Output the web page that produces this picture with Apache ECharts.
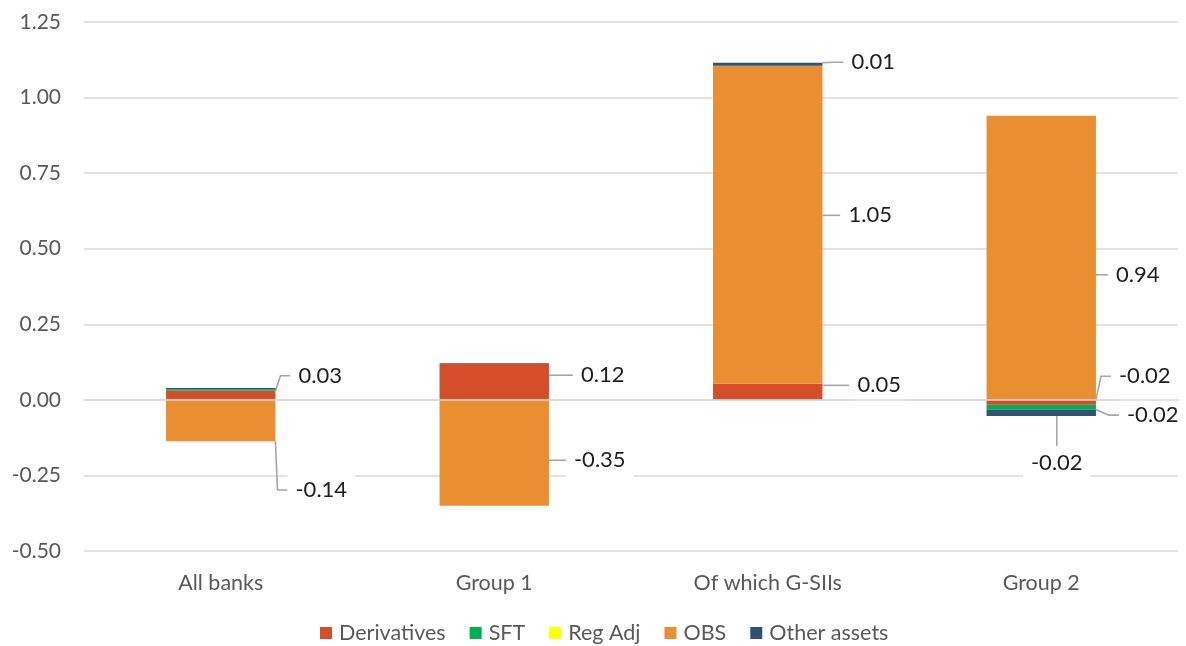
<!DOCTYPE html>
<html>
<head>
<meta charset="utf-8">
<script src="https://cdn.jsdelivr.net/npm/echarts@6/dist/echarts.min.js"></script>
<style>
  html, body { margin: 0; padding: 0; background: #fff; }
  #chart { width: 1186px; height: 646px; }
</style>
</head>
<body>
<div id="chart"></div>
<script>
// Contributions to the change, by bank group and exposure component
const categories = ['All banks', 'Group 1', 'Of which G-SIIs', 'Group 2'];
const derivatives = [0.03, 0.12, 0.053, -0.016];
const sft = [0.005, 0, 0, -0.016];
const regAdj = [0, 0, 0, 0];
const obs = [-0.137, -0.35, 1.052, 0.94];
const otherAssets = [0.004, 0.002, 0.01, -0.021];
const yTicks = [-0.5, 1.25, 0.25]; // min, max, step

const seriesDefs = [
  { name: 'Derivatives', values: derivatives, color: '#D34E29' },
  { name: 'SFT', values: sft, color: '#00B050' },
  { name: 'Reg Adj', values: regAdj, color: '#FFFF00' },
  { name: 'OBS', values: obs, color: '#E98E31' },
  { name: 'Other assets', values: otherAssets, color: '#2D5475' }
];

// Where each data label sits: [gap from bar's right edge to text, shift from segment centre]
const labelOffsets = {
  'Derivatives|All banks': [23, -19.5],
  'OBS|All banks': [20, 69.5],
  'Derivatives|Group 1': [32, -6.5],
  'OBS|Group 1': [25, 7.5],
  'Other assets|Of which G-SIIs': [29, -2],
  'OBS|Of which G-SIIs': [26, -9.5],
  'Derivatives|Of which G-SIIs': [35, -6.5],
  'OBS|Group 2': [20, 17],
  'Derivatives|Group 2': [23, -26],
  'SFT|Group 2': [31, 8],
  'Other assets|Group 2': [-65, 50.5]
};

const FONT = 'Lato';
const LABEL_PAD = 8;

const chart = echarts.init(document.getElementById('chart'), null, { renderer: 'canvas' });

const series = seriesDefs.map(s => ({
  name: s.name,
  type: 'bar',
  stack: 'total',
  barWidth: '40%',
  itemStyle: { color: s.color },
  data: s.values.map((v, ci) => ({
    value: v,
    label: { show: !!labelOffsets[s.name + '|' + categories[ci]] }
  })),
  label: {
    position: 'right',
    formatter: p => p.value.toFixed(2),
    fontFamily: FONT,
    fontSize: 22,
    color: '#1e1e1e',
    backgroundColor: '#ffffff',
    padding: [6, LABEL_PAD]
  },
  labelLine: {
    show: true,
    length2: 10,
    lineStyle: { color: '#a6a6a6', width: 1.6 }
  },
  labelLayout: params => {
    const off = labelOffsets[s.name + '|' + categories[params.dataIndex]];
    if (!off) return {};
    const r = params.rect;
    return {
      x: r.x + r.width + off[0] - LABEL_PAD,
      y: r.y + r.height / 2 + off[1],
      align: 'left',
      verticalAlign: 'middle'
    };
  }
}));

chart.setOption({
  animation: false,
  backgroundColor: '#ffffff',
  grid: { left: 84, right: 8, top: 22, bottom: 95, containLabel: false },
  legend: {
    data: seriesDefs.map(s => s.name),
    left: 320,
    top: 622,
    icon: 'rect',
    itemWidth: 12,
    itemHeight: 12,
    itemGap: 24,
    padding: 0,
    textStyle: { fontFamily: FONT, fontSize: 21.5, color: '#595959', padding: [0, 0, 0, 2] }
  },
  xAxis: {
    type: 'category',
    data: categories,
    z: 10,
    axisLine: { show: true, onZero: true, lineStyle: { color: '#d9d9d9', width: 1.5 } },
    axisTick: { show: false },
    axisLabel: { fontFamily: FONT, fontSize: 21.5, color: '#595959', margin: 21 }
  },
  yAxis: {
    type: 'value',
    min: yTicks[0],
    max: yTicks[1],
    interval: yTicks[2],
    axisLine: { show: false },
    axisTick: { show: false },
    axisLabel: {
      fontFamily: FONT, fontSize: 21, color: '#595959', margin: 23,
      formatter: v => v.toFixed(2)
    },
    splitLine: { lineStyle: { color: '#d9d9d9', width: 1.5 } }
  },
  series: series
});
</script>
</body>
</html>
